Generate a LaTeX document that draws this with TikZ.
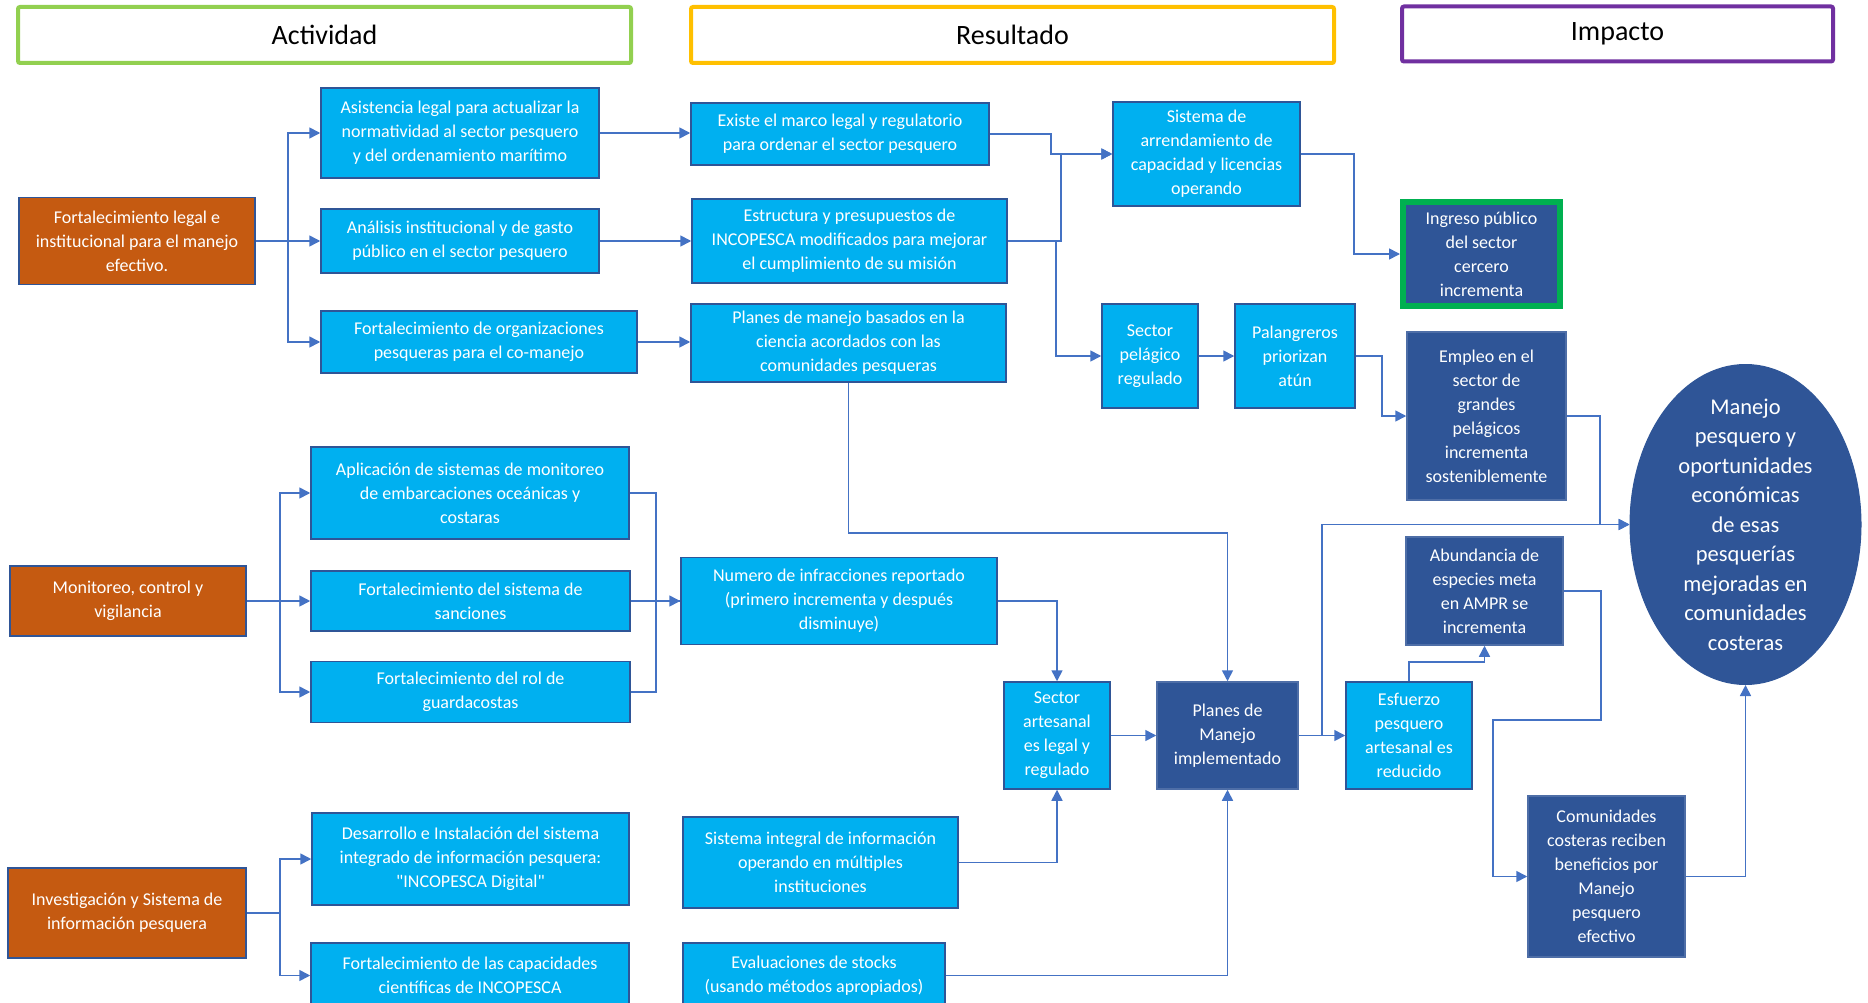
\documentclass[tikz,border=0pt]{standalone}
\usepackage{fontspec}
\setmainfont{Carlito}
\newfontfamily\rawquote{Carlito}[Ligatures=TeXOff]
\usetikzlibrary{arrows.meta,shapes.geometric}

\definecolor{lblue}{HTML}{00B0F0}
\definecolor{dblue}{HTML}{2F5597}
\definecolor{edgeblue}{HTML}{2F5597}
\definecolor{orng}{HTML}{C55A11}
\definecolor{connblue}{HTML}{4472C4}
\definecolor{hgreen}{HTML}{92D050}
\definecolor{hyellow}{HTML}{FFC000}
\definecolor{hpurple}{HTML}{7030A0}
\definecolor{igreen}{HTML}{00B050}

\tikzset{
  box/.style={draw=edgeblue, line width=1.5pt, text=white, align=center,
    inner sep=0pt, font=\fontsize{18}{24}\selectfont},
  light/.style={box, fill=lblue},
  dark/.style={box, fill=dblue, draw=dblue!85!white},
  orangebox/.style={box, fill=orng},
  hdr/.style={draw, line width=4pt, fill=white, rounded corners=2pt,
    inner sep=0pt, text=black, font=\fontsize{28}{32}\selectfont},
  link/.style={draw=connblue, line width=1.6pt,
    -{Triangle[length=11pt,width=11pt]}},
  plainlink/.style={draw=connblue, line width=1.6pt},
}

\begin{document}
\begin{tikzpicture}[x=1pt,y=-1pt]
\useasboundingbox (0,0) rectangle (1868,1003);
\fill[white] (0,0) rectangle (1868,1003);
\clip (0,0) rectangle (1868,1003);

% column headers
\node[hdr, draw=hgreen, minimum width=613pt, minimum height=56pt] (hAct) at (324.5,35) {Actividad};
\node[hdr, draw=hyellow, minimum width=643pt, minimum height=56pt] (hRes) at (1012.5,35) {Resultado};
\node[hdr, draw=hpurple, minimum width=431pt, minimum height=55pt] (hImp) at (1617.5,34) {Impacto};

% lines of action
\node[orangebox, minimum width=236pt, minimum height=87pt] (oLegal) at (137,241) {Fortalecimiento legal e\\institucional para el manejo\\efectivo.};
\node[orangebox, minimum width=236pt, minimum height=70pt] (oMon) at (128,601) {Monitoreo, control y\\vigilancia};
\node[orangebox, minimum width=238pt, minimum height=90pt] (oInv) at (127,913) {Investigación y Sistema de\\información pesquera};

% activities
\node[light, minimum width=278pt, minimum height=90pt] (aAsist) at (460,133) {Asistencia legal para actualizar la\\normatividad al sector pesquero\\y del ordenamiento marítimo};
\node[light, minimum width=278pt, minimum height=64pt] (aAnal) at (460,241) {Análisis institucional y de gasto\\público en el sector pesquero};
\node[light, minimum width=316pt, minimum height=62pt] (aOrg) at (479,342) {Fortalecimiento de organizaciones\\pesqueras para el co-manejo};
\node[light, minimum width=318pt, minimum height=92pt] (aApl) at (470,493) {Aplicación de sistemas de monitoreo\\de embarcaciones oceánicas y\\costaras};
\node[light, minimum width=319pt, minimum height=60pt] (aSanc) at (470.5,601) {Fortalecimiento del sistema de\\sanciones};
\node[light, minimum width=319pt, minimum height=61pt] (aGuard) at (470.5,692) {Fortalecimiento del rol de\\guardacostas};
\node[light, minimum width=317pt, minimum height=92pt] (aDes) at (470.5,859) {Desarrollo e Instalación del sistema\\integrado de información pesquera:\\{\rawquote"}INCOPESCA Digital{\rawquote"}};
\node[light, minimum width=318pt, minimum height=65pt] (aCap) at (470,975.5) {Fortalecimiento de las capacidades\\científicas de INCOPESCA};

% results
\node[light, minimum width=298pt, minimum height=62pt] (rExiste) at (840,134) {Existe el marco legal y regulatorio\\para ordenar el sector pesquero};
\node[light, minimum width=315pt, minimum height=84pt] (rEstr) at (849.5,241) {Estructura y presupuestos de\\INCOPESCA modificados para mejorar\\el cumplimiento de su misión};
\node[light, minimum width=315pt, minimum height=78pt] (rPlanes) at (848.5,343) {Planes de manejo basados en la\\ciencia acordados con las\\comunidades pesqueras};
\node[light, minimum width=187pt, minimum height=104pt] (rSist) at (1206.5,154) {Sistema de\\arrendamiento de\\capacidad y licencias\\operando};
\node[light, minimum width=96pt, minimum height=104pt] (rPelag) at (1150,356) {Sector\\pelágico\\regulado};
\node[light, minimum width=120pt, minimum height=104pt] (rPalang) at (1295,356) {Palangreros\\priorizan\\atún};
\node[light, minimum width=316pt, minimum height=87pt] (rNum) at (839,601) {Numero de infracciones reportado\\(primero incrementa y después\\disminuye)};
\node[light, minimum width=106pt, minimum height=107pt] (rArtes) at (1057,735.5) {Sector\\artesanal\\es legal y\\regulado};
\node[dark, minimum width=141pt, minimum height=107pt] (rPlanMan) at (1227.5,735.5) {Planes de\\Manejo\\implementado};
\node[light, minimum width=275pt, minimum height=91pt] (rSisInt) at (820.5,862.5) {Sistema integral de información\\operando en múltiples\\instituciones};
\node[light, minimum width=262pt, minimum height=65pt] (rEval) at (814,975.5) {Evaluaciones de stocks\\(usando métodos apropiados)};
\node[light, minimum width=126pt, minimum height=107pt] (rEsf) at (1409,735.5) {Esfuerzo\\pesquero\\artesanal es\\reducido};

% impacts
\node[box, fill=dblue, draw=igreen, line width=6pt, minimum width=157pt, minimum height=104pt] (iIngreso) at (1481.5,254) {Ingreso público\\del sector\\cercero\\incrementa};
\node[dark, minimum width=159pt, minimum height=168pt] (iEmpleo) at (1486.5,416) {Empleo en el\\sector de\\grandes\\pelágicos\\incrementa\\sosteniblemente};
\node[dark, minimum width=157pt, minimum height=108pt] (iAbund) at (1484.5,591) {Abundancia de\\especies meta\\en AMPR se\\incrementa};
\node[dark, minimum width=157pt, minimum height=161pt] (iComun) at (1606.5,876.5) {Comunidades\\costeras reciben\\beneficios por\\Manejo\\pesquero\\efectivo};
\node[ellipse, fill=dblue, draw=dblue, line width=1pt, inner sep=0pt, minimum width=231pt, minimum height=320pt] (iEll) at (1745.5,524.5) {};
\node[text=white, align=center, inner sep=0pt, font=\fontsize{22.5}{29.5}\selectfont] (iEllText) at (iEll.center) {Manejo\\pesquero y\\oportunidades\\económicas\\de esas\\pesquerías\\mejoradas en\\comunidades\\costeras};

% connectors: activities
\draw[link] (oLegal.east) -- ++(32,0) |- (aAsist.west);
\draw[link] (oLegal.east) -- ++(32,0) |- (aAnal.west);
\draw[link] (oLegal.east) -- ++(32,0) |- (aOrg.west);
\draw[link] (oMon.east) -- ++(33,0) |- (aApl.west);
\draw[link] (oMon.east) -- ++(33,0) |- (aSanc.west);
\draw[link] (oMon.east) -- ++(33,0) |- (aGuard.west);
\draw[link] (oInv.east) -- ++(33,0) |- (aDes.west);
\draw[link] (oInv.east) -- ++(33,0) |- (aCap.west);

% connectors: activities to results
\draw[link] (aAsist.east) -- (aAsist.east -| rExiste.west);
\draw[link] (aAnal.east) -- (aAnal.east -| rEstr.west);
\draw[link] (aOrg.east) -- (aOrg.east -| rPlanes.west);
\draw[plainlink] (aApl.east) -- ++(26,0) |- (aSanc.east -| rNum.west);
\draw[plainlink] (aGuard.east) -- ++(25,0) |- (aSanc.east -| rNum.west);
\draw[link] (aSanc.east) -- (aSanc.east -| rNum.west);

% connectors: results
\draw[link] (rExiste.east) -- ++(61,0) |- (rSist.west);
\draw[link] (rEstr.east) -- ++(53,0) |- (rSist.west);
\draw[link] (rEstr.east) -- ++(48,0) |- (rPelag.west);
\draw[link] (rPelag.east) -- (rPalang.west);
\draw[link] (rPlanes.south) -- ++(0,150) -| (rPlanMan.north);
\draw[link] (rNum.east) -| (rArtes.north);
\draw[link] (rSisInt.east) -| (rArtes.south);
\draw[link] (rArtes.east) -- (rPlanMan.west);
\draw[link] (rEval.east) -| (rPlanMan.south);
\draw[link] (rPlanMan.east) -- (rEsf.west);

% connectors: impacts
\draw[link] (rSist.east) -- ++(53,0) |- (iIngreso.west);
\draw[link] (rPalang.east) -- ++(26,0) |- (iEmpleo.west);
\draw[link] (iEmpleo.east) -- ++(33,0) |- (iEll.west);
\draw[link] (rPlanMan.east) -- ++(23,0) |- (iEll.west);
\draw[link] (rEsf.north) -- ++(0,-19) -| (iAbund.south);
\draw[link] (iAbund.east) -- ++(37,0) -- ++(0,129) -- ++(-108,0) |- (iComun.west);
\draw[link] (iComun.east) -| (iEll.south);
\end{tikzpicture}
\end{document}
